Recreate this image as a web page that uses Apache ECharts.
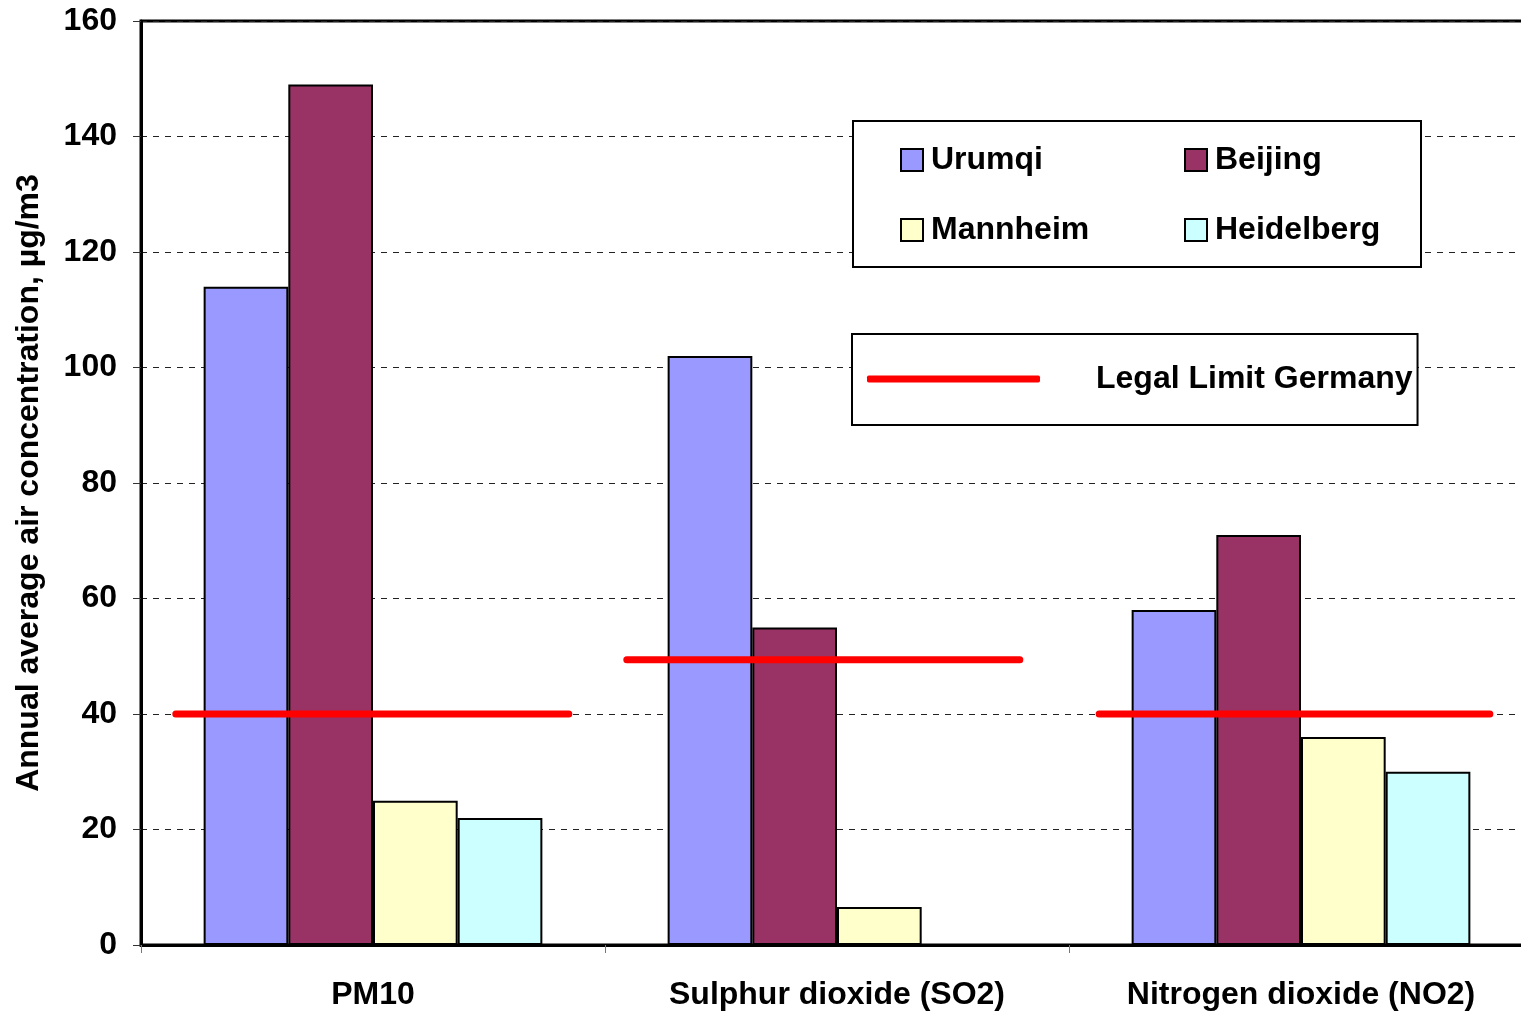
<!DOCTYPE html>
<html>
<head>
<meta charset="utf-8">
<title>Annual average air concentration</title>
<script src="https://cdn.jsdelivr.net/npm/echarts@6/dist/echarts.min.js"></script>
<style>
  html, body { margin: 0; padding: 0; background: #fff; }
  #chart { width: 1521px; height: 1012px; }
</style>
</head>
<body>
<div id="chart"></div>
<script>
// Pollutant categories on the x axis
const categories = ['PM10', 'Sulphur dioxide (SO2)', 'Nitrogen dioxide (NO2)'];

// Annual average concentrations, µg/m3
const urumqi     = [114, 102, 58];
const beijing    = [149, 55, 71];
const mannheim   = [25, 6.6, 36];
const heidelberg = [22, '-', 30];

// German legal limits per pollutant, and the span of each limit bar in category units
const legalLimit = [40, 49.4, 40];
const limitStart = [0.075, 1.047, 2.065];
const limitEnd   = [0.922, 1.894, 2.907];

// y axis ticks
const yMin = 0, yMax = 160, yStep = 20;

const FONT = "'Liberation Sans', Arial, sans-serif";
const FS = 32;
const LIMIT_NAME = 'Legal Limit Germany';

const cities = [
  { name: 'Urumqi', data: urumqi, color: '#9999FF' },
  { name: 'Beijing', data: beijing, color: '#993366' },
  { name: 'Mannheim', data: mannheim, color: '#FFFFCC' },
  { name: 'Heidelberg', data: heidelberg, color: '#CCFFFF' }
];

const barSeries = cities.map(s => ({
  name: s.name,
  type: 'bar',
  data: s.data,
  barGap: '0%',
  barCategoryGap: '27%',
  itemStyle: { color: s.color, borderColor: '#000', borderWidth: 2 },
  emphasis: { disabled: true },
  z: 2
}));

const limitSeries = legalLimit.map((v, i) => ({
  name: LIMIT_NAME,
  type: 'line',
  xAxisIndex: 1,
  data: [[limitStart[i], v], [limitEnd[i], v]],
  symbol: 'none',
  lineStyle: { color: '#FF0000', width: 7, cap: 'round' },
  itemStyle: { color: '#FF0000' },
  emphasis: { disabled: true },
  z: 5
}));

// city legend: a 2 x 2 grid of entries inside one framed box
const cityCells = [
  { left: 900, top: 144 }, { left: 1184, top: 144 },
  { left: 900, top: 214 }, { left: 1184, top: 214 }
];
const cityLegends = cities.map((c, i) => ({
  data: [c.name],
  left: cityCells[i].left, top: cityCells[i].top,
  padding: 0,
  itemWidth: 22, itemHeight: 22,
  icon: 'rect',
  itemStyle: { borderColor: '#000', borderWidth: 2 },
  textStyle: { fontSize: FS, fontWeight: 'bold', color: '#000', fontFamily: FONT, padding: [0, 0, 0, 3] },
  selectedMode: false
}));

const chart = echarts.init(document.getElementById('chart'), null, { renderer: 'canvas' });

chart.setOption({
  animation: false,
  backgroundColor: '#fff',
  textStyle: { fontFamily: FONT },
  // plot area runs past the right edge of the canvas
  grid: {
    left: 141, top: 21, width: 1392, bottom: 67,
    outerBoundsMode: 'none',
    containLabel: false,
    show: true, borderColor: '#000', borderWidth: 3, backgroundColor: 'transparent'
  },
  graphic: [{
    type: 'rect',
    z: 3,
    shape: { x: 853, y: 121, width: 568, height: 146 },
    style: { fill: '#fff', stroke: '#000', lineWidth: 2 }
  }],
  legend: cityLegends.concat([
    {
      data: [LIMIT_NAME],
      left: 852, top: 334,
      padding: [29, 5, 30, 15],
      itemWidth: 173, itemHeight: 7,
      icon: 'roundRect',
      backgroundColor: '#fff', borderColor: '#000', borderWidth: 2,
      itemStyle: { color: '#FF0000' },
      textStyle: { fontSize: FS, fontWeight: 'bold', color: '#000', fontFamily: FONT, lineHeight: 30, padding: [0, 0, 0, 51] },
      selectedMode: false
    }
  ]),
  xAxis: [
    {
      type: 'category',
      data: categories,
      axisLine: { lineStyle: { color: '#000', width: 3 } },
      axisTick: { show: true, length: 8, interval: 0, lineStyle: { color: '#777', width: 1 } },
      axisLabel: { fontSize: FS, fontWeight: 'bold', color: '#000', fontFamily: FONT, margin: 34, interval: 0 },
      splitLine: { show: false }
    },
    {
      type: 'value', min: 0, max: 3, show: false,
      splitLine: { show: false }
    }
  ],
  yAxis: {
    type: 'value',
    min: yMin, max: yMax, interval: yStep,
    name: 'Annual average air concentration, µg/m3',
    nameLocation: 'middle',
    nameGap: 96,
    nameTextStyle: { fontSize: FS, fontWeight: 'bold', color: '#000', fontFamily: FONT },
    axisLine: { show: true, lineStyle: { color: '#000', width: 3 } },
    axisTick: { show: true, length: 8, lineStyle: { color: '#333', width: 1 } },
    axisLabel: { fontSize: FS, fontWeight: 'bold', color: '#000', fontFamily: FONT, margin: 24 },
    splitLine: { show: true, lineStyle: { color: '#222', width: 1, type: [6, 6] } }
  },
  series: barSeries.concat(limitSeries)
});
</script>
</body>
</html>
